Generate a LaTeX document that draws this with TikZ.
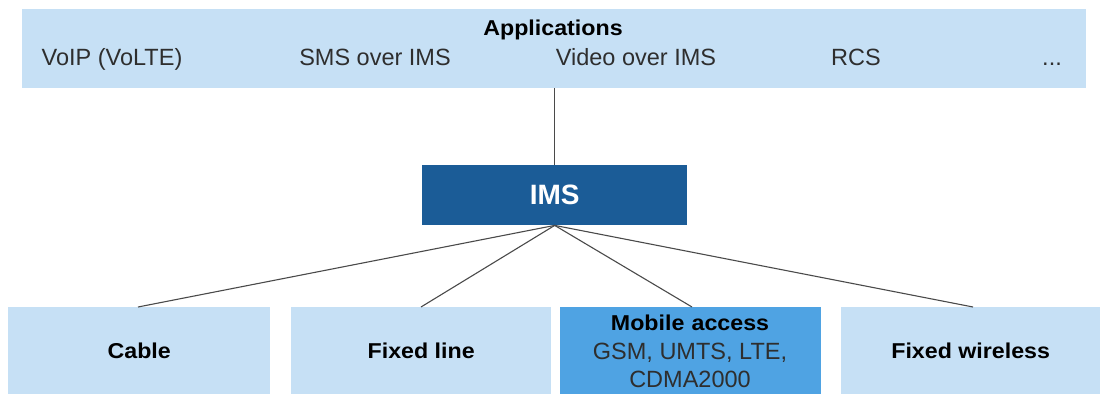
\documentclass[tikz,border=0pt]{standalone}
\usepackage{fontspec}
\setmainfont{Liberation Sans}
\newfontfamily\boldwide{Liberation Sans}[FakeStretch=1.08]
\definecolor{lightbox}{HTML}{C6E0F5}
\definecolor{imsblue}{HTML}{1B5C97}
\definecolor{mobblue}{HTML}{4FA3E3}
\definecolor{linegray}{HTML}{4A4A4A}
\definecolor{txtgray}{HTML}{2E2E2E}
\tikzset{
  box/.style={fill=lightbox, draw=none, inner sep=0pt, anchor=north west},
  lbl/.style={inner sep=0pt, anchor=base},
  item/.style={lbl, font=\fontsize{23.5}{26}\selectfont, text=txtgray},
  head/.style={lbl, font=\boldwide\fontsize{21.5}{24}\selectfont\bfseries, text=black},
  conn/.style={draw=linegray, line width=1.1pt},
}
\begin{document}
\begin{tikzpicture}[x=1pt,y=-1pt]
\useasboundingbox (0,0) rectangle (1100,394);
% top applications box
\node[box, minimum width=1064pt, minimum height=79pt] (apps) at (22,9) {};
\node[head] (apphead) at (553,35) {Applications};
\node[item] (voip) at (112,65) {VoIP (VoLTE)};
\node[item] (sms) at (375,65) {SMS over IMS};
\node[item] (video) at (636,65) {Video over IMS};
\node[item] (rcs) at (856,65) {RCS};
\node[item] (dots) at (1052,65) {...};
% IMS
\node[box, fill=imsblue, minimum width=265pt, minimum height=60pt] (ims) at (422,165) {};
\node[inner sep=0pt, font=\fontsize{28}{30}\selectfont\bfseries, text=white] (imstxt) at (ims.center) {IMS};
% bottom boxes
\node[box, minimum width=262pt, minimum height=87pt] (cable) at (8,307) {};
\node[box, minimum width=260pt, minimum height=87pt] (fixed) at (291,307) {};
\node[box, fill=mobblue, minimum width=261pt, minimum height=87pt] (mobile) at (560,307) {};
\node[box, minimum width=259pt, minimum height=87pt] (wireless) at (841,307) {};
\node[head] (cabletxt) at (cable.center |- 0,358) {Cable};
\node[head] (fixedtxt) at (fixed.center |- 0,358) {Fixed line};
\node[head] (wirelesstxt) at (wireless.center |- 0,358) {Fixed wireless};
\node[head] (mobhead) at (690,330) {Mobile\,\,access};
\node[item] (mob1) at (690,359) {GSM, UMTS, LTE,};
\node[item] (mob2) at (690,387) {CDMA2000};
% connectors
\coordinate (c1) at (138,307);
\coordinate (c2) at (421,307);
\coordinate (c3) at (692,307);
\coordinate (c4) at (973,307);
\draw[conn] (apps.south -| ims.north) -- (ims.north);
\draw[conn] (ims.south) -- (c1);
\draw[conn] (ims.south) -- (c2);
\draw[conn] (ims.south) -- (c3);
\draw[conn] (ims.south) -- (c4);
\end{tikzpicture}
\end{document}
